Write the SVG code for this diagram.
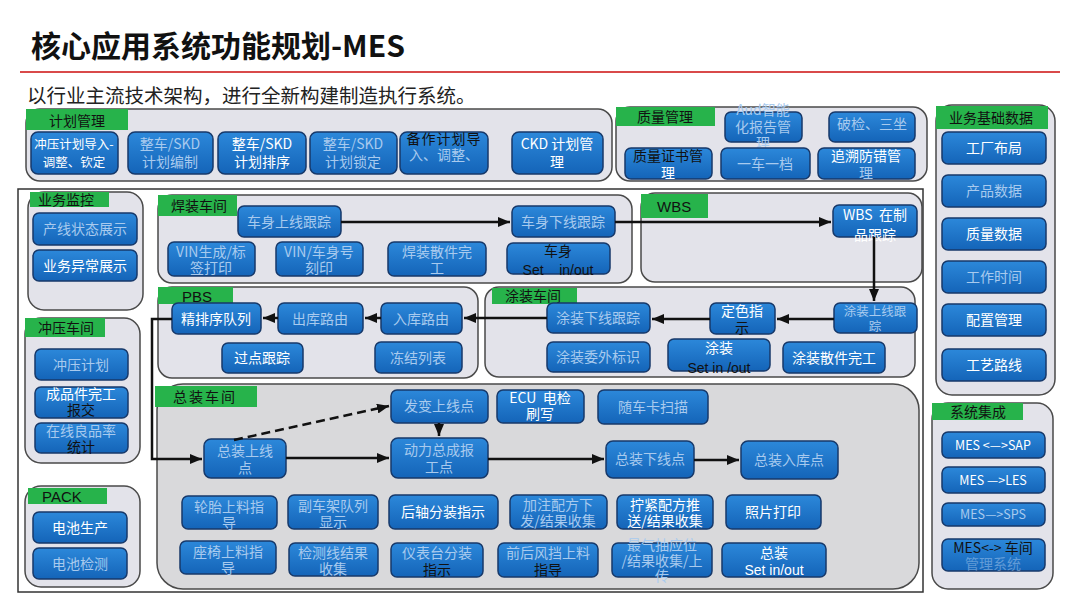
<svg xmlns="http://www.w3.org/2000/svg" width="1080" height="608" viewBox="0 0 1080 608">
<defs>
<linearGradient id="bg" x1="0" y1="0" x2="0" y2="1"><stop offset="0" stop-color="#2c88da"/><stop offset="1" stop-color="#1464b8"/></linearGradient>
<marker id="ah" markerUnits="userSpaceOnUse" markerWidth="12" markerHeight="10" refX="12" refY="5" orient="auto"><path d="M0,0 L12,5 L0,10 z" fill="#111"/></marker>
<style>
.g{fill:#e3e3ea;stroke:#4a4a4a;stroke-width:1.5}
.gz{fill:#d9d9db;stroke:#4a4a4a;stroke-width:1.5}
.lb{fill:#27b34b}
.b{fill:url(#bg);stroke:#17396a;stroke-width:1.5}
.t{font-family:"Noto Sans CJK SC",sans-serif;font-size:14px;fill:#fff;text-anchor:middle}
.f{fill:#a8caee}
.k{fill:#111}
.s{font-size:12.5px}
.lt{font-family:"Noto Sans CJK SC",sans-serif;font-size:14px;fill:#111;text-anchor:middle}
.en{font-family:"Liberation Sans",sans-serif;font-size:15px;fill:#111}
.c{fill:none;stroke:#111;stroke-width:2.5}
</style>
</defs>
<rect width="1080" height="608" fill="#fff"/>
<text x="31" y="57" font-family="'Noto Sans CJK SC',sans-serif" font-size="30" font-weight="bold" fill="#111">核心应用系统功能规划-MES</text>
<line x1="20" y1="72" x2="1060" y2="72" stroke="#d94a4a" stroke-width="2"/>
<text x="27" y="103" font-family="'Noto Sans CJK SC',sans-serif" font-size="19.5" fill="#222">以行业主流技术架构，进行全新构建制造执行系统。</text>

<g id="plan">
<rect class="g" x="26" y="109" width="586" height="72" rx="14"/>
<rect class="lb" x="26" y="109" width="102" height="21"/>
<text class="lt" x="77" y="126">计划管理</text>
<rect class="b" x="31" y="132" width="87" height="42" rx="7"/><text class="t s" x="74" y="149">冲压计划导入-<tspan x="74" dy="18">调整、钦定</tspan></text>
<rect class="b" x="128" y="132" width="85" height="42" rx="7"/><text class="t f" x="170" y="149">整车/SKD<tspan x="170" dy="18">计划编制</tspan></text>
<rect class="b" x="218" y="132" width="88" height="42" rx="7"/><text class="t" x="262" y="149">整车/SKD<tspan x="262" dy="18">计划排序</tspan></text>
<rect class="b" x="310" y="132" width="87" height="42" rx="7"/><text class="t f" x="353" y="149">整车/SKD<tspan x="353" dy="18">计划锁定</tspan></text>
<rect class="b" x="400" y="132" width="88" height="42" rx="7"/><text class="t k" x="444" y="144" letter-spacing="1">备作计划导<tspan class="f" x="444" dy="16" letter-spacing="0">入、调整、</tspan></text>
<rect class="b" x="512" y="132" width="91" height="42" rx="7"/><text class="t" x="557" y="149">CKD 计划管<tspan x="557" dy="18">理</tspan></text>
</g>

<g id="quality">
<rect class="g" x="616" y="107" width="311" height="74" rx="14"/>
<rect class="lb" x="616" y="107" width="99" height="19"/>
<text class="lt" x="665" y="122">质量管理</text>
<rect class="b" x="725" y="112" width="77" height="30" rx="6"/><text class="t f" x="763" y="115">Aud智能<tspan x="763" dy="17">化报告管</tspan><tspan x="763" dy="16">理</tspan></text>
<rect class="b" x="829" y="112" width="86" height="30" rx="6"/><text class="t f" x="872" y="129">破检、三坐</text>
<rect class="b" x="625" y="148" width="87" height="31" rx="6"/><text class="t k" x="668" y="161">质量证书管<tspan class="t" x="668" dy="17">理</tspan></text>
<rect class="b" x="721" y="148" width="89" height="31" rx="6"/><text class="t f" x="765" y="169">一车一档</text>
<rect class="b" x="818" y="148" width="97" height="31" rx="6"/><text class="t" x="866" y="161">追溯防错管<tspan class="f" x="866" dy="17">理</tspan></text>
</g>

<g id="basedata">
<rect class="g" x="936" y="105" width="119" height="290" rx="16"/>
<rect class="lb" x="936" y="106" width="112" height="23"/>
<text class="lt" x="991" y="123">业务基础数据</text>
<rect class="b" x="942" y="132" width="104" height="32" rx="6"/><text class="t" x="994" y="153">工厂布局</text>
<rect class="b" x="942" y="175" width="104" height="32" rx="6"/><text class="t f" x="994" y="196">产品数据</text>
<rect class="b" x="942" y="218" width="104" height="32" rx="6"/><text class="t" x="994" y="239">质量数据</text>
<rect class="b" x="942" y="261" width="104" height="32" rx="6"/><text class="t f" x="994" y="282">工作时间</text>
<rect class="b" x="942" y="304" width="104" height="32" rx="6"/><text class="t" x="994" y="325">配置管理</text>
<rect class="b" x="942" y="349" width="104" height="32" rx="6"/><text class="t" x="994" y="370">工艺路线</text>
</g>

<g id="integration">
<rect class="g" x="932" y="403" width="121" height="186" rx="16"/>
<rect class="lb" x="932" y="403" width="91" height="17"/>
<text class="lt" x="978" y="417">系统集成</text>
<rect class="b" x="942" y="432" width="103" height="26" rx="6"/><text class="t s" x="993" y="450">MES &lt;—&gt;SAP</text>
<rect class="b" x="942" y="467" width="103" height="26" rx="6"/><text class="t s" x="993" y="485">MES —&gt;LES</text>
<rect class="b" x="942" y="503" width="103" height="23" rx="6"/><text class="t f s" x="993" y="519">MES—&gt;SPS</text>
<rect class="b" x="942" y="539" width="103" height="32" rx="6"/><text class="t k" x="993" y="553">MES&lt;-&gt; 车间<tspan class="f" x="993" dy="16" opacity="0.5">管理系统</tspan></text>
</g>

<rect id="frame" x="18" y="189" width="905" height="403" fill="none" stroke="#333" stroke-width="1.5"/>

<g id="monitor">
<rect class="g" x="28" y="192" width="115" height="118" rx="16"/>
<rect class="lb" x="30" y="192" width="79" height="15"/>
<text class="lt" x="66" y="205" font-size="13">业务监控</text>
<rect class="b" x="33" y="213" width="104" height="32" rx="6"/><text class="t f" x="85" y="234">产线状态展示</text>
<rect class="b" x="33" y="250" width="104" height="31" rx="6"/><text class="t" x="85" y="271">业务异常展示</text>
</g>

<g id="stamping">
<rect class="g" x="25" y="318" width="115" height="145" rx="16"/>
<rect class="lb" x="25" y="318" width="80" height="19"/>
<text class="lt" x="66" y="333">冲压车间</text>
<rect class="b" x="35" y="349" width="93" height="31" rx="6"/><text class="t f" x="81" y="370">冲压计划</text>
<rect class="b" x="35" y="387" width="93" height="31" rx="6"/><text class="t" x="81" y="399">成品件完工<tspan class="k" x="81" dy="16">报交</tspan></text>
<rect class="b" x="35" y="423" width="93" height="30" rx="6"/><text class="t f" x="81" y="436">在线良品率<tspan class="k" x="81" dy="16">统计</tspan></text>
</g>

<g id="pack">
<rect class="g" x="25" y="486" width="115" height="101" rx="16"/>
<rect class="lb" x="28" y="488" width="79" height="16"/>
<text class="en" x="42" y="502">PACK</text>
<rect class="b" x="33" y="512" width="94" height="31" rx="6"/><text class="t" x="80" y="533">电池生产</text>
<rect class="b" x="33" y="548" width="94" height="31" rx="6"/><text class="t f" x="80" y="569">电池检测</text>
</g>

<g id="welding">
<rect class="g" x="158" y="195" width="474" height="88" rx="14"/>
<rect class="lb" x="158" y="195" width="79" height="21"/>
<text class="lt" x="199" y="211">焊装车间</text>
<rect class="b" x="238" y="206" width="103" height="31" rx="6"/><text class="t f" x="289" y="227">车身上线跟踪</text>
<rect class="b" x="512" y="206" width="103" height="31" rx="6"/><text class="t f" x="563" y="227">车身下线跟踪</text>
<rect class="b" x="168" y="242" width="87" height="34" rx="6"/><text class="t f" x="211" y="257">VIN生成/标<tspan x="211" dy="16">签打印</tspan></text>
<rect class="b" x="276" y="242" width="87" height="34" rx="6"/><text class="t f" x="319" y="257">VIN/车身号<tspan x="319" dy="16">刻印</tspan></text>
<rect class="b" x="388" y="242" width="98" height="34" rx="6"/><text class="t f" x="437" y="257">焊装散件完<tspan x="437" dy="16">工</tspan></text>
<rect class="b" x="507" y="243" width="103" height="31" rx="6"/><text class="t k" x="558" y="256">车身<tspan x="558" dy="19" font-family="'Liberation Sans',sans-serif" xml:space="preserve">Set    in/out</tspan></text>
</g>

<g id="wbs">
<rect class="g" x="641" y="193" width="281" height="89" rx="14"/>
<rect class="lb" x="641" y="194" width="67" height="24"/>
<text class="en" x="657" y="212" font-size="16">WBS</text>
<rect class="b" x="833" y="205" width="84" height="32" rx="6"/><text class="t" x="875" y="220" xml:space="preserve">WBS  在制<tspan x="875" dy="20">品跟踪</tspan></text>
</g>

<g id="pbs">
<rect class="g" x="158" y="287" width="320" height="91" rx="14"/>
<rect class="lb" x="158" y="287" width="75" height="17"/>
<text class="en" x="182" y="302">PBS</text>
<rect class="b" x="172" y="303" width="89" height="31" rx="6"/><text class="t" x="216" y="324">精排序队列</text>
<rect class="b" x="278" y="303" width="85" height="31" rx="6"/><text class="t f" x="320" y="324">出库路由</text>
<rect class="b" x="381" y="303" width="81" height="31" rx="6"/><text class="t f" x="421" y="324">入库路由</text>
<rect class="b" x="222" y="343" width="81" height="30" rx="6"/><text class="t" x="262" y="363">过点跟踪</text>
<rect class="b" x="375" y="342" width="87" height="31" rx="6"/><text class="t f" x="418" y="363">冻结列表</text>
</g>

<g id="painting">
<rect class="g" x="485" y="287" width="430" height="90" rx="14"/>
<rect class="lb" x="492" y="288" width="85" height="16"/>
<text class="lt" x="533" y="301">涂装车间</text>
<rect class="b" x="547" y="303" width="103" height="30" rx="6"/><text class="t f" x="598" y="323">涂装下线跟踪</text>
<rect class="b" x="710" y="303" width="65" height="31" rx="6"/><text class="t" x="742" y="316">定色指<tspan class="k" x="742" dy="17">示</tspan></text>
<rect class="b" x="834" y="303" width="83" height="30" rx="6"/><text class="t f s" x="875" y="316">涂装上线跟<tspan x="875" dy="15">踪</tspan></text>
<rect class="b" x="547" y="342" width="103" height="30" rx="6"/><text class="t f" x="598" y="362">涂装委外标识</text>
<rect class="b" x="668" y="339" width="102" height="32" rx="6"/><text class="t" x="719" y="353">涂装<tspan class="k" x="719" dy="20" font-family="'Liberation Sans',sans-serif">Set in /out</tspan></text>
<rect class="b" x="783" y="342" width="102" height="31" rx="6"/><text class="t" x="834" y="363">涂装散件完工</text>
</g>

<g id="assembly">
<rect class="gz" x="157" y="384" width="762" height="205" rx="26"/>
<rect class="lb" x="155" y="386" width="102" height="21"/>
<text class="lt" x="205" y="402" letter-spacing="2">总装车间</text>
<rect class="b" x="204" y="439" width="82" height="39" rx="7"/><text class="t f" x="245" y="456">总装上线<tspan x="245" dy="17">点</tspan></text>
<rect class="b" x="391" y="390" width="97" height="33" rx="6"/><text class="t f" x="439" y="411">发变上线点</text>
<rect class="b" x="497" y="390" width="87" height="33" rx="6"/><text class="t" x="540" y="403" xml:space="preserve">ECU  电检<tspan x="540" dy="16">刷写</tspan></text>
<rect class="b" x="598" y="390" width="110" height="34" rx="6"/><text class="t f" x="653" y="412">随车卡扫描</text>
<rect class="b" x="391" y="438" width="97" height="40" rx="7"/><text class="t f" x="439" y="455">动力总成报<tspan x="439" dy="17">工点</tspan></text>
<rect class="b" x="606" y="441" width="88" height="37" rx="7"/><text class="t f" x="650" y="464">总装下线点</text>
<rect class="b" x="741" y="441" width="97" height="38" rx="7"/><text class="t f" x="789" y="465">总装入库点</text>
<rect class="b" x="182" y="496" width="95" height="33" rx="6"/><text class="t f" x="229" y="512">轮胎上料指<tspan x="229" dy="16">导</tspan></text>
<rect class="b" x="288" y="495" width="90" height="34" rx="6"/><text class="t f" x="333" y="511">副车架队列<tspan x="333" dy="16">显示</tspan></text>
<rect class="b" x="389" y="495" width="109" height="34" rx="6"/><text class="t" x="443" y="517">后轴分装指示</text>
<rect class="b" x="510" y="495" width="97" height="34" rx="6"/><text class="t f" x="558" y="510">加注配方下<tspan x="558" dy="16">发/结果收集</tspan></text>
<rect class="b" x="617" y="495" width="96" height="34" rx="6"/><text class="t" x="665" y="510">拧紧配方推<tspan x="665" dy="16">送/结果收集</tspan></text>
<rect class="b" x="726" y="495" width="95" height="34" rx="6"/><text class="t" x="773" y="517">照片打印</text>
<rect class="b" x="180" y="541" width="96" height="33" rx="6"/><text class="t f" x="228" y="557">座椅上料指<tspan x="228" dy="16">导</tspan></text>
<rect class="b" x="289" y="543" width="89" height="33" rx="6"/><text class="t f" x="333" y="558">检测线结果<tspan x="333" dy="16">收集</tspan></text>
<rect class="b" x="391" y="543" width="92" height="34" rx="6"/><text class="t f" x="437" y="558">仪表台分装<tspan class="k" x="437" dy="17">指示</tspan></text>
<rect class="b" x="498" y="543" width="100" height="34" rx="6"/><text class="t f" x="548" y="558">前后风挡上料<tspan class="k" x="548" dy="17">指导</tspan></text>
<rect class="b" x="612" y="543" width="100" height="34" rx="6"/><text class="t f" x="662" y="550">最气抽应位<tspan x="662" dy="16">/结果收集/上</tspan><tspan x="662" dy="15">传</tspan></text>
<rect class="b" x="722" y="543" width="104" height="34" rx="6"/><text class="t" x="774" y="558">总装<tspan x="774" dy="17" font-family="'Liberation Sans',sans-serif">Set in/out</tspan></text>
</g>

<g id="connectors">
<path class="c" d="M341,222 H510" marker-end="url(#ah)"/>
<path class="c" d="M615,222 H831" marker-end="url(#ah)"/>
<path class="c" d="M874,237 V301" marker-end="url(#ah)"/>
<path class="c" d="M834,319 H777" marker-end="url(#ah)"/>
<path class="c" d="M710,319 H652" marker-end="url(#ah)"/>
<path class="c" d="M547,318 H464" marker-end="url(#ah)"/>
<path class="c" d="M381,318 H365" marker-end="url(#ah)"/>
<path class="c" d="M278,318 H263" marker-end="url(#ah)"/>
<path class="c" d="M172,319 H152 V459 H202" marker-end="url(#ah)"/>
<path class="c" d="M234,440 L389,406" stroke-dasharray="9,5" marker-end="url(#ah)"/>
<path class="c" d="M439,423 V436" marker-end="url(#ah)"/>
<path class="c" d="M286,458 H389" marker-end="url(#ah)"/>
<path class="c" d="M488,459 H604" marker-end="url(#ah)"/>
<path class="c" d="M694,460 H739" marker-end="url(#ah)"/>
</g>
</svg>
